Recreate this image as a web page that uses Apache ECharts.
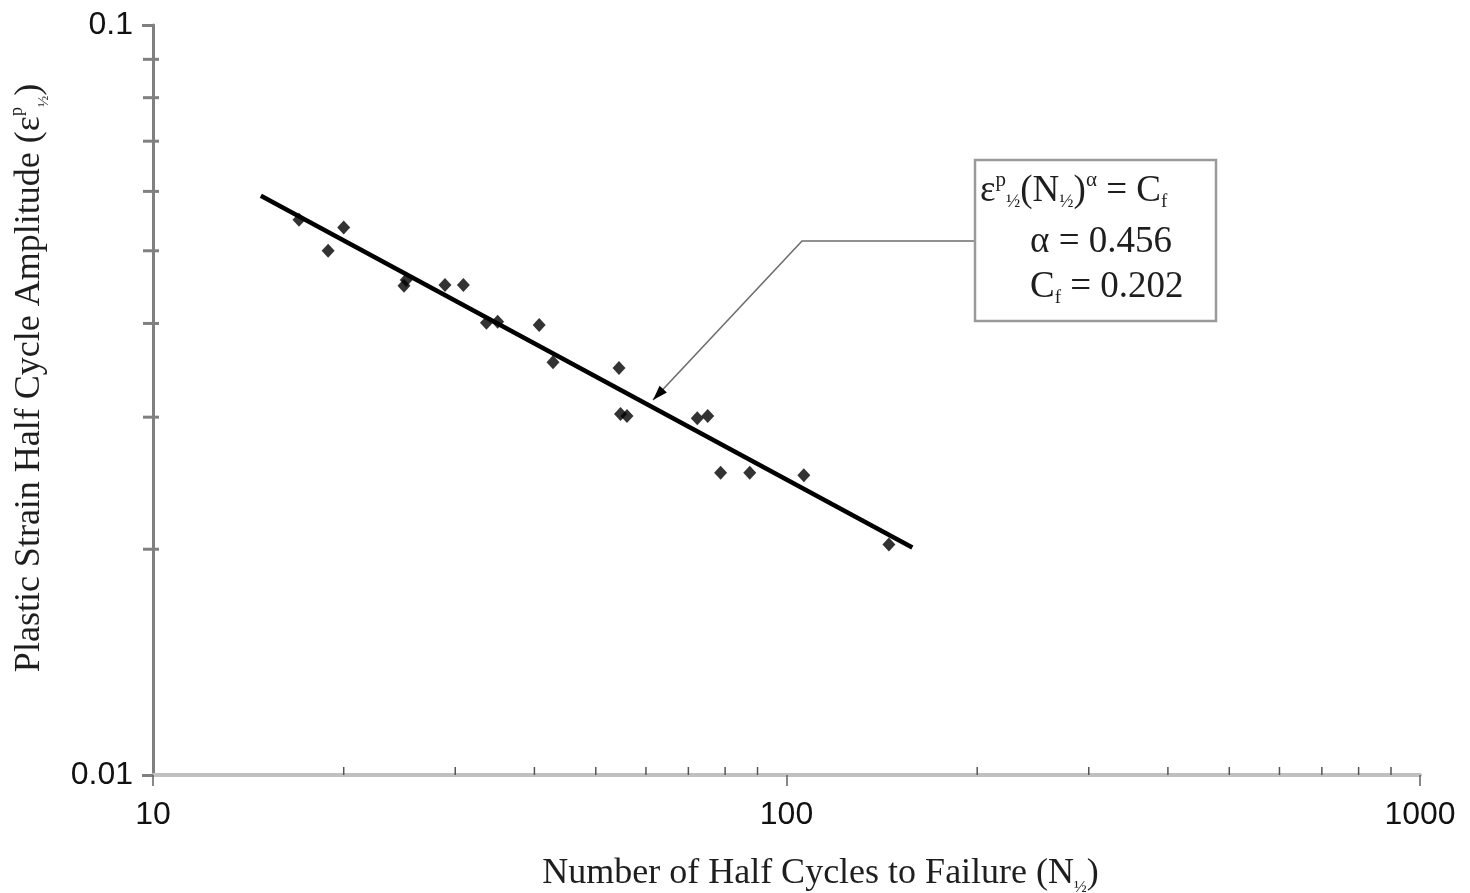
<!DOCTYPE html>
<html>
<head>
<meta charset="utf-8">
<script src="https://cdn.jsdelivr.net/npm/echarts@6/dist/echarts.min.js"></script>
<style>
html,body{margin:0;padding:0;background:#fff;}
#chart{width:1470px;height:893px;}
</style>
</head>
<body>
<div id="chart"></div>
<script>
// Data
const cyclesN = [17.0, 18.9, 20.0, 24.9, 25.1, 28.9, 30.9, 33.6, 35.0, 40.7, 42.8, 54.4, 54.7, 56.0, 72.3, 75.1, 78.7, 87.5, 106.5, 145.1];
const strainAmp = [0.0550, 0.0500, 0.0537, 0.0449, 0.0457, 0.0450, 0.0450, 0.0401, 0.0402, 0.0398, 0.0355, 0.0349, 0.0303, 0.0301, 0.0299, 0.0301, 0.0253, 0.0253, 0.0251, 0.0203];
const fitN = [14.8, 158];
const fitStrain = [0.0592, 0.0201];
const xMinorTicks = [20, 30, 40, 50, 60, 70, 80, 90, 200, 300, 400, 500, 600, 700, 800, 900];
const yMinorTicks = [0.02, 0.03, 0.04, 0.05, 0.06, 0.07, 0.08, 0.09];
const xTickLabels = ['10', '100', '1000'];
const yTickLabels = ['0.01', '0.1'];

const serif = '"Liberation Serif", "Times New Roman", serif';
const sans = '"Liberation Sans", Arial, sans-serif';

const points = cyclesN.map((n, i) => [n, strainAmp[i]]);
const fitLine = fitN.map((n, i) => [n, fitStrain[i]]);

const chart = echarts.init(document.getElementById('chart'), null, {renderer: 'canvas'});

// arrow geometry (annotation)
const arrowPts = [[974, 241], [802, 241], [653, 400]];
const tip = arrowPts[2], prev = arrowPts[1];
const dx = tip[0] - prev[0], dy = tip[1] - prev[1];
const len = Math.sqrt(dx * dx + dy * dy);
const ux = dx / len, uy = dy / len;
const hl = 15, hw = 5;
const bx = tip[0] - ux * hl, by = tip[1] - uy * hl;
const head = [[tip[0], tip[1]], [bx - uy * hw, by + ux * hw], [bx + uy * hw, by - ux * hw]];

const textColor = '#1e1e1e';
const richCommon = {
  sup: {fontFamily: serif, fontSize: 21, fill: textColor, color: textColor, verticalAlign: 'top', lineHeight: 42},
  sub: {fontFamily: serif, fontSize: 19, fill: textColor, color: textColor, verticalAlign: 'bottom', lineHeight: 42}
};

chart.setOption({
  animation: false,
  backgroundColor: '#ffffff',
  grid: {left: 153, right: 50, top: 25, bottom: 118, outerBoundsMode: 'none'},
  xAxis: {
    type: 'log', logBase: 10, min: 10, max: 1000,
    name: 'Number of Half Cycles to Failure (N{sub|½})',
    nameLocation: 'middle', nameGap: 77,
    nameTextStyle: {
      fontFamily: serif, fontSize: 36, color: textColor, padding: [0, 0, 0, 68],
      rich: {sub: {fontFamily: serif, fontSize: 17, color: textColor, verticalAlign: 'bottom', lineHeight: 44}}
    },
    axisLine: {show: true, lineStyle: {color: '#c0c0c0', width: 4}},
    axisTick: {show: true, inside: false, length: 11, lineStyle: {color: '#606060', width: 1.5}},
    axisLabel: {
      fontFamily: sans, fontSize: 32, color: '#111', margin: 24,
      formatter: v => {
        const s = String(Math.round(v));
        return xTickLabels.indexOf(s) >= 0 ? s : '';
      }
    },
    splitLine: {show: false},
    minorTick: {show: false}
  },
  yAxis: {
    type: 'log', logBase: 10, min: 0.01, max: 0.1,
    name: 'Plastic Strain Half Cycle Amplitude (ε{sup|p}{sub|½})',
    nameLocation: 'middle', nameGap: 101, nameRotate: 90,
    nameTextStyle: {
      fontFamily: serif, fontSize: 36, color: textColor, padding: [0, 0, 0, 44],
      rich: {
        sup: {fontFamily: serif, fontSize: 18, color: textColor, verticalAlign: 'top', lineHeight: 44},
        sub: {fontFamily: serif, fontSize: 15, color: textColor, verticalAlign: 'bottom', lineHeight: 44}
      }
    },
    axisLine: {show: true, lineStyle: {color: '#808080', width: 3}},
    axisTick: {show: true, inside: false, length: 11, lineStyle: {color: '#808080', width: 3}},
    axisLabel: {
      fontFamily: sans, fontSize: 32, color: '#111', margin: 20,
      formatter: v => {
        const s = String(Number(v.toPrecision(3)));
        return yTickLabels.indexOf(s) >= 0 ? s : '';
      }
    },
    splitLine: {show: false}
  },
  series: [
    {
      type: 'custom', name: 'xMinor', silent: true, clip: false, z: 5,
      data: xMinorTicks.map(v => [v, 0.01]),
      renderItem: (params, api) => {
        const p = api.coord([api.value(0), api.value(1)]);
        return {type: 'line', shape: {x1: p[0], y1: p[1], x2: p[0], y2: p[1] - 8},
          style: {stroke: '#555', lineWidth: 1.5}};
      }
    },
    {
      type: 'custom', name: 'yMinor', silent: true, clip: false, z: 5,
      data: yMinorTicks.map(v => [10, v]),
      renderItem: (params, api) => {
        const p = api.coord([api.value(0), api.value(1)]);
        return {type: 'line', shape: {x1: p[0] - 10, y1: p[1], x2: p[0] + 6, y2: p[1]},
          style: {stroke: '#808080', lineWidth: 3}};
      }
    },
    {
      type: 'line', name: 'fit', data: fitLine, showSymbol: false, symbol: 'none',
      lineStyle: {color: '#000', width: 4.5}, z: 3
    },
    {
      type: 'scatter', name: 'data', data: points, symbol: 'diamond', symbolSize: [13, 14],
      itemStyle: {color: '#000'}, z: 4
    }
  ],
  graphic: [
    {type: 'polyline', shape: {points: arrowPts}, style: {stroke: '#6e6e6e', lineWidth: 1.6, fill: null}, z: 10},
    {type: 'polygon', shape: {points: head}, style: {fill: '#000'}, z: 10},
    {type: 'rect', shape: {x: 975, y: 160, width: 241, height: 161},
      style: {fill: '#fff', stroke: '#9a9a9a', lineWidth: 2.5}, z: 11},
    {type: 'text', x: 980, y: 170, z: 12,
      style: {
        text: 'ε{sup|p}{sub|½}(N{sub|½}){sup|α} = C{sub|f}',
        fontFamily: serif, fontSize: 37, fill: textColor, lineHeight: 42,
        rich: richCommon
      }},
    {type: 'text', x: 1030, y: 221, z: 12,
      style: {text: 'α = 0.456', fontFamily: serif, fontSize: 37, fill: textColor, lineHeight: 42}},
    {type: 'text', x: 1030, y: 266, z: 12,
      style: {
        text: 'C{sub|f} = 0.202',
        fontFamily: serif, fontSize: 37, fill: textColor, lineHeight: 42,
        rich: richCommon
      }}
  ]
});
</script>
</body>
</html>
